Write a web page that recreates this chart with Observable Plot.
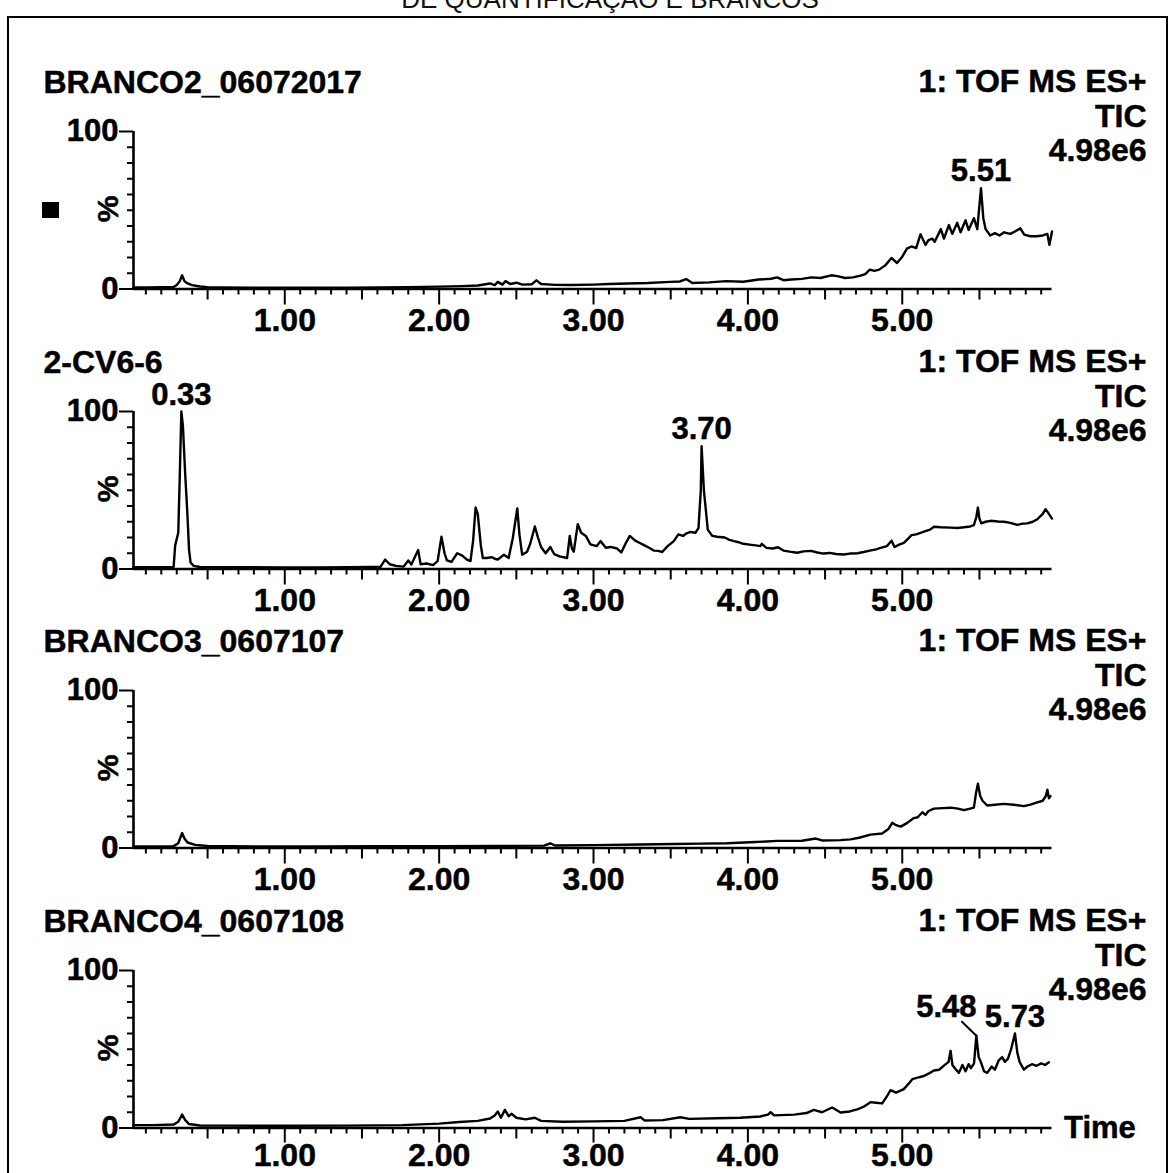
<!DOCTYPE html>
<html><head><meta charset="utf-8">
<script src="https://cdn.jsdelivr.net/npm/d3@7"></script>
<script src="https://cdn.jsdelivr.net/npm/@observablehq/plot@0.6"></script>
<style>
html,body{margin:0;padding:0;background:#fff;}
body{width:1170px;height:1173px;overflow:hidden;position:relative;font-family:"Liberation Sans",Arial,sans-serif;}
#title{position:absolute;left:0;width:1220px;text-align:center;top:-14px;font-size:26px;line-height:26px;color:#111;white-space:nowrap;}
#border{position:absolute;left:7px;top:16px;width:1161px;height:1200px;border:2px solid #000;box-sizing:border-box;}
.panel{position:absolute;left:0;}
.panel svg{overflow:visible;}
#marker{position:absolute;left:42px;top:202px;width:17px;height:16px;background:#000;}
</style></head>
<body>
<div id="title">DE QUANTIFICAÇÃO E BRANCOS</div>
<div id="border"></div>
<div id="marker"></div>
<script>
// ---- data ----
const sampleNames = ["BRANCO2_06072017", "2-CV6-6", "BRANCO3_0607107", "BRANCO4_0607108"];
const instrumentLines = ["1: TOF MS ES+", "TIC", "4.98e6"];

// [time (min), intensity (%)]
const branco2 = [[0.02,1.0],[0.10,1.0],[0.20,1.1],[0.28,1.2],[0.30,2.5],[0.32,5.0],[0.335,8.7],[0.35,5.0],[0.37,3.5],[0.40,2.5],[0.45,1.6],[0.50,1.2],[0.60,1.0],[0.80,0.8],[1.00,0.8],[1.20,0.8],[1.40,0.9],[1.60,1.0],[1.80,1.2],[2.00,1.5],[2.15,1.8],[2.25,2.2],[2.33,3.5],[2.36,2.5],[2.38,4.5],[2.41,2.8],[2.43,5.0],[2.46,3.2],[2.50,4.0],[2.54,2.8],[2.60,3.0],[2.63,5.5],[2.66,3.2],[2.75,2.6],[2.85,2.5],[3.00,2.8],[3.10,3.2],[3.22,3.5],[3.35,3.8],[3.50,4.5],[3.56,4.8],[3.60,6.3],[3.64,3.8],[3.75,4.2],[3.86,5.0],[3.97,4.6],[4.07,6.0],[4.15,6.5],[4.19,7.4],[4.23,5.6],[4.28,6.0],[4.35,6.4],[4.41,7.4],[4.47,7.0],[4.54,8.7],[4.58,8.2],[4.63,7.0],[4.68,7.4],[4.73,8.5],[4.76,9.5],[4.79,12.3],[4.82,11.5],[4.85,12.3],[4.89,15.0],[4.93,19.7],[4.966,16.5],[5.00,20.5],[5.03,25.6],[5.06,27.0],[5.09,26.0],[5.118,34.7],[5.151,28.0],[5.17,31.0],[5.194,32.0],[5.21,30.0],[5.25,38.0],[5.27,32.0],[5.302,40.6],[5.324,35.0],[5.356,42.0],[5.378,36.0],[5.41,43.6],[5.43,37.5],[5.464,45.0],[5.486,38.0],[5.51,64.0],[5.525,45.0],[5.54,38.0],[5.57,34.0],[5.60,35.5],[5.63,34.0],[5.66,36.0],[5.70,35.0],[5.73,36.5],[5.765,38.5],[5.79,34.5],[5.83,33.5],[5.87,33.5],[5.91,34.0],[5.94,35.0],[5.953,28.0],[5.97,36.5]];

const cv6 = [[0.02,1.2],[0.10,1.2],[0.20,1.2],[0.28,1.3],[0.29,15],[0.30,19],[0.31,23],[0.32,60],[0.33,100],[0.34,91],[0.355,60],[0.368,37],[0.38,12],[0.39,4],[0.41,2],[0.45,1.3],[0.60,1.2],[0.80,1.1],[1.00,1.0],[1.20,1.0],[1.40,1.1],[1.55,1.3],[1.62,1.3],[1.65,6],[1.68,3],[1.72,2],[1.77,1.5],[1.80,5.4],[1.82,2.8],[1.864,12],[1.88,3],[1.92,3.5],[1.96,2.5],[1.99,5],[2.015,20.5],[2.035,10],[2.05,5.5],[2.08,4.5],[2.117,10],[2.15,8.5],[2.18,6],[2.203,5],[2.22,18],[2.236,39],[2.25,35],[2.27,15],[2.283,7],[2.31,7],[2.343,7.5],[2.36,6.5],[2.38,6],[2.42,9],[2.45,7],[2.477,19.5],[2.506,38.5],[2.52,22],[2.538,9],[2.57,11],[2.59,16],[2.62,27],[2.64,20],[2.66,14],[2.69,10],[2.72,14],[2.745,9.5],[2.78,8],[2.829,7],[2.846,21],[2.86,13],[2.872,11],[2.898,28.5],[2.92,23],[2.95,21],[2.98,15.6],[3.02,14.5],[3.045,17.7],[3.08,13.5],[3.11,14],[3.153,13],[3.18,10.5],[3.21,16.6],[3.235,21],[3.27,18],[3.30,16.5],[3.33,15],[3.36,13.5],[3.39,11.7],[3.42,11.5],[3.445,10.8],[3.48,14.5],[3.52,17.7],[3.55,22],[3.58,21],[3.60,22.5],[3.628,23.5],[3.66,23],[3.68,26],[3.695,50],[3.70,78],[3.715,50],[3.74,25],[3.77,21],[3.80,20.5],[3.85,20],[3.88,18.5],[3.91,17.7],[3.94,17],[3.97,16],[4.01,15.5],[4.05,15],[4.08,14.5],[4.09,16],[4.12,13.4],[4.16,13],[4.195,13.8],[4.23,11.7],[4.27,11],[4.32,10.3],[4.36,11.2],[4.41,11.5],[4.45,10.5],[4.49,9.8],[4.53,10.2],[4.57,9.5],[4.62,9.2],[4.66,9.8],[4.71,10],[4.75,10.8],[4.79,11.7],[4.83,12.5],[4.86,13.4],[4.90,14.5],[4.93,18],[4.95,14],[4.98,15.5],[5.01,16.6],[5.04,19.5],[5.06,21.5],[5.09,22],[5.118,23],[5.15,24],[5.18,25],[5.205,26.8],[5.25,26.5],[5.31,26.3],[5.356,26],[5.40,26.5],[5.44,27],[5.464,27.8],[5.48,33],[5.49,39],[5.50,32],[5.512,29],[5.54,30],[5.572,30.6],[5.62,30.2],[5.66,30],[5.70,29.3],[5.745,28],[5.78,28.8],[5.81,29],[5.845,30],[5.875,31.6],[5.91,35],[5.928,38],[5.95,35],[5.97,32]];

const branco3 = [[0.02,1.0],[0.20,1.0],[0.28,1.2],[0.31,3],[0.335,9.5],[0.35,6],[0.37,3.5],[0.42,2],[0.50,1.3],[0.80,1.0],[1.20,1.0],[1.60,1.1],[2.00,1.2],[2.40,1.3],[2.68,1.5],[2.72,3],[2.75,1.6],[3.00,1.8],[3.30,2.2],[3.52,2.5],[3.70,2.8],[3.866,3],[4.05,3.8],[4.19,4.5],[4.35,4.6],[4.44,6],[4.48,4.8],[4.60,5],[4.664,5.5],[4.72,6.5],[4.794,8.5],[4.87,9.2],[4.91,12],[4.935,16],[4.96,14.5],[4.99,13.6],[5.03,15.8],[5.075,19],[5.10,19.5],[5.13,22.7],[5.15,21],[5.17,23.5],[5.205,25],[5.26,25.3],[5.313,25.6],[5.36,25],[5.40,24],[5.44,25],[5.464,25.6],[5.478,35],[5.49,40.8],[5.505,33],[5.52,30],[5.55,27],[5.60,27.5],[5.658,28],[5.72,27.5],[5.788,26.6],[5.83,27.5],[5.875,29],[5.91,30],[5.93,33],[5.94,37],[5.95,31.5],[5.96,33]];

const branco4 = [[0.02,1.8],[0.15,1.8],[0.28,2.2],[0.31,4],[0.335,8.5],[0.355,5],[0.38,2.5],[0.45,1.6],[0.60,1.5],[1.00,1.4],[1.40,1.5],[1.76,1.8],[2.00,2.8],[2.13,3.8],[2.25,4.5],[2.33,6],[2.36,8],[2.38,10.5],[2.40,6.5],[2.426,11.5],[2.45,7.5],[2.47,9],[2.50,6.5],[2.56,5.5],[2.62,6.5],[2.66,4.5],[2.80,4],[3.00,4.2],[3.20,4.5],[3.305,6.8],[3.33,4.8],[3.45,5],[3.563,6.8],[3.62,5.8],[3.80,6.2],[3.95,6.5],[4.08,7.3],[4.13,8.5],[4.147,10],[4.17,8],[4.30,8.5],[4.38,9.5],[4.427,11.5],[4.48,10],[4.546,13],[4.60,9.8],[4.66,10.5],[4.708,11.8],[4.75,13.5],[4.794,16.4],[4.83,16],[4.87,15.6],[4.90,20],[4.924,24],[4.96,22.5],[5.01,24.7],[5.04,28],[5.065,31],[5.10,32],[5.14,33],[5.17,34.5],[5.205,36.5],[5.24,37],[5.27,39.6],[5.30,42],[5.313,49],[5.325,40],[5.345,37.5],[5.367,35],[5.39,40],[5.41,36],[5.43,40.5],[5.445,38],[5.465,41],[5.48,58.6],[5.495,45],[5.51,41.7],[5.53,36],[5.55,35],[5.58,39],[5.60,37],[5.625,43],[5.647,45],[5.665,42],[5.685,44],[5.705,50],[5.73,60],[5.745,48],[5.76,42],[5.788,37],[5.81,39],[5.84,40.5],[5.87,39.5],[5.90,41],[5.925,40],[5.95,41.7]];

const traces = [branco2, cv6, branco3, branco4];
const peakLabels = [["5.51"], ["0.33", "3.70"], [], ["5.48", "5.73"]];
const shiftedLabels = ["5.48"];

const xMajorTicks = [1, 2, 3, 4, 5];
const xHalfTicks = [0.5, 1.5, 2.5, 3.5, 4.5, 5.5];
const xMinorTicks = d3.range(1, 60).map(i => i / 10).filter(t => Math.abs(t * 2 - Math.round(t * 2)) > 1e-6);
const yMajorTicks = [0, 100];
const yMinorTicks = [10, 20, 30, 40, 50, 60, 70, 80, 90];
const timeDomain = [0.02, 5.97];
const timeLabel = "Time";
const yLabel = "%";

// ---- drawing ----
const FONT = '"Liberation Sans", Arial, Helvetica, sans-serif';
const PANEL_STEP = 279.5, FIRST_TOP = 50;
const leaderShape = {draw(context, l) { context.moveTo(0, 0); context.lineTo(0, -l); }};
const heavy = {fontWeight: "bold", fill: "black", stroke: "black", strokeWidth: 0.5};

traces.forEach((trace, i) => {
  const data = trace.map(([t, v]) => ({t, v}));
  const peaks = peakLabels[i].map(label => {
    const t = +label;
    const p = data.find(d => Math.abs(d.t - t) < 1e-9);
    return {t, v: p.v, label};
  });
  const plain = peaks.filter(p => !shiftedLabels.includes(p.label));
  const shifted = peaks.filter(p => shiftedLabels.includes(p.label));
  const isLast = i === traces.length - 1;

  const fig = Plot.plot({
    width: 1170,
    height: 290,
    marginLeft: 133,
    marginRight: 118.5,
    marginTop: 81,
    marginBottom: 51.5,
    x: {domain: timeDomain},
    y: {domain: [0, 100]},
    style: {fontFamily: FONT, fontWeight: "bold", color: "black", background: "transparent", overflow: "visible"},
    marks: [
      Plot.axisY({ticks: yMinorTicks, tickSize: 6, strokeWidth: 2, fill: "none", label: null}),
      Plot.axisY({ticks: yMajorTicks, tickSize: 14, tickPadding: 1, strokeWidth: 2, fontSize: 31, fontWeight: "bold", textStroke: "black", textStrokeWidth: 0.5, tickFormat: d => String(d), label: null}),
      Plot.axisX({ticks: xMinorTicks, tickSize: 6, strokeWidth: 2, fill: "none", label: null}),
      Plot.axisX({ticks: xHalfTicks, tickSize: 11, strokeWidth: 2, fill: "none", label: null}),
      Plot.axisX({ticks: xMajorTicks, tickSize: isLast ? 15 : 16, tickPadding: isLast ? 0 : 3, strokeWidth: 2, fontSize: 32, fontWeight: "bold", textStroke: "black", textStrokeWidth: 0.5, tickFormat: d3.format(".2f"), label: null}),
      Plot.ruleY([0], {stroke: "black", strokeWidth: 2.6}),
      Plot.ruleX([timeDomain[0]], {stroke: "black", strokeWidth: 2.6}),
      Plot.line(data, {x: "t", y: "v", stroke: "black", strokeWidth: 2.4, strokeLinejoin: "round"}),
      Plot.text(plain, {x: "t", y: "v", text: "label", dy: -7, lineAnchor: "bottom", fontSize: 31, ...heavy}),
      Plot.text(shifted, {x: "t", y: "v", text: "label", dx: -30, dy: -19, lineAnchor: "bottom", fontSize: 31, ...heavy}),
      Plot.vector(shifted, {x: "t", y: "v", length: 20, rotate: -46, anchor: "start", shape: leaderShape, stroke: "black", strokeWidth: 2}),
      Plot.text([sampleNames[i]], {frameAnchor: "top-left", textAnchor: "start", lineAnchor: "top", dx: -90, dy: -61.5, fontSize: 32, ...heavy}),
      Plot.text([instrumentLines.join("\n")], {frameAnchor: "top-right", textAnchor: "end", lineAnchor: "top", dx: 94.5, dy: -63.5, lineHeight: 1.07, fontSize: 32, ...heavy}),
      Plot.text([yLabel], {frameAnchor: "left", rotate: -90, dx: -25, dy: 12, fontSize: 30, ...heavy}),
      isLast ? Plot.text([timeLabel], {frameAnchor: "bottom-right", textAnchor: "start", lineAnchor: "middle", dx: 12, fontSize: 31, ...heavy}) : null
    ]
  });
  const div = document.createElement("div");
  div.className = "panel";
  div.style.top = (FIRST_TOP + i * PANEL_STEP) + "px";
  div.appendChild(fig);
  document.body.appendChild(div);
});
</script>
</body></html>
